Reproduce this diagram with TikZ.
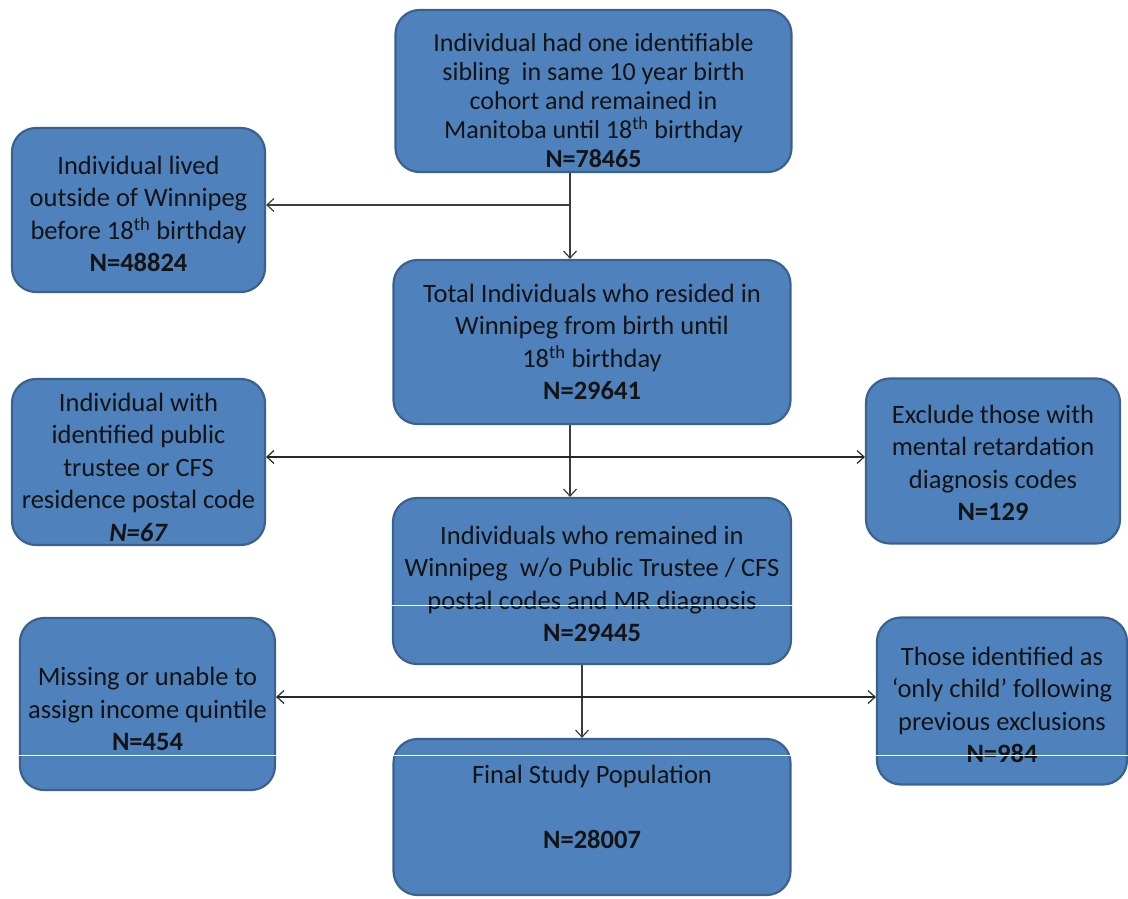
\documentclass[tikz,border=0pt]{standalone}
\usepackage{fontspec}
\setmainfont{Carlito}
\usetikzlibrary{arrows.meta}
\definecolor{boxfill}{HTML}{4F81BD}
\definecolor{boxline}{HTML}{3A6290}
\definecolor{txt}{HTML}{141414}
\definecolor{conn}{HTML}{3C3C3C}
\tikzset{
  box/.style={draw=boxline, line width=2.2pt, fill=boxfill, rounded corners=24pt, inner sep=0pt},
  lbl/.style={align=center, text=txt, inner sep=0pt},
  big/.style={font=\fontsize{26.5}{32.5}\selectfont},
  small/.style={font=\fontsize{26}{29}\selectfont},
  arr/.style={line width=1.6pt, -{Straight Barb[length=7pt,width=13pt,line width=1.2pt]}},
  darr/.style={line width=1.6pt, {Straight Barb[length=7pt,width=13pt,line width=1.2pt]}-{Straight Barb[length=7pt,width=13pt,line width=1.2pt]}},
}
\begin{document}
\begin{tikzpicture}[x=1pt,y=-1pt]
\useasboundingbox (0,0) rectangle (1128,899);

\node[box, minimum width=396pt, minimum height=162pt] (top) at (593.5,91) {};
\node[lbl, small, yshift=-10pt] (topt) at (top.center)
  {Individual had one identifiable\\sibling\ \ in same 10 year birth\\cohort and remained in\\Manitoba until 18\textsuperscript{th} birthday\\\textbf{N=78465}};
\node[box, minimum width=253pt, minimum height=164pt] (lv) at (138.5,210) {};
\node[lbl, big, yshift=-4pt] (lvt) at (lv.center)
  {Individual lived\\outside of Winnipeg\\before 18\textsuperscript{th} birthday\\\textbf{N=48824}};
\node[box, minimum width=397pt, minimum height=164pt] (tot) at (592,342) {};
\node[lbl, big] (tott) at (tot.center)
  {Total Individuals who resided in\\Winnipeg from birth until\\18\textsuperscript{th} birthday\\\textbf{N=29641}};
\node[box, minimum width=253pt, minimum height=166pt] (pt) at (138.5,462) {};
\node[lbl, big, yshift=-5pt] (ptt) at (pt.center)
  {Individual with\\identified public\\trustee or CFS\\residence postal code\\\textbf{\textit{N=67}}};
\node[box, minimum width=254pt, minimum height=165pt] (mr) at (993,461) {};
\node[lbl, big, yshift=-2pt] (mrt) at (mr.center)
  {Exclude those with\\mental retardation\\diagnosis codes\\\textbf{N=129}};
\node[box, minimum width=398pt, minimum height=166pt] (rem) at (592,581) {};
\node[lbl, big, yshift=-3pt] (remt) at (rem.center)
  {Individuals who remained in\\Winnipeg\ \ w/o Public Trustee / CFS\\postal codes and MR diagnosis\\\textbf{N=29445}};
\node[box, minimum width=255pt, minimum height=172pt] (inc) at (147.5,704) {};
\node[lbl, big, yshift=-5pt] (inct) at (inc.center)
  {Missing or unable to\\assign income quintile\\\textbf{N=454}};
\node[box, minimum width=250pt, minimum height=167pt] (only) at (1002,701) {};
\node[lbl, big, yshift=-4pt] (onlyt) at (only.center)
  {Those identified as\\‘only child’ following\\previous exclusions\\\textbf{N=984}};
\node[box, minimum width=397pt, minimum height=156pt] (fin) at (592,817) {};
\node[lbl, big, yshift=10pt] (fint) at (fin.center)
  {Final Study Population\\[32pt]\textbf{N=28007}};

\coordinate (j1) at (570,205);
\coordinate (j2) at (570,457);
\coordinate (j3) at (582,697);

\draw[arr, conn] (top.south -| j1) -- (tot.north -| j1);
\draw[arr, conn] (j1) -- (j1 -| lv.east);
\draw[arr, conn] (tot.south -| j2) -- (rem.north -| j2);
\draw[darr, black!85] (j2 -| pt.east) -- (j2 -| mr.west);
\draw[arr, conn] (rem.south -| j3) -- (fin.north -| j3);
\draw[darr, black!85] (j3 -| inc.east) -- (j3 -| only.west);

\draw[white, line width=1pt] (390,605) -- (796,605);
\draw[white, line width=1pt] (15,755) -- (1128,755);
\end{tikzpicture}
\end{document}
